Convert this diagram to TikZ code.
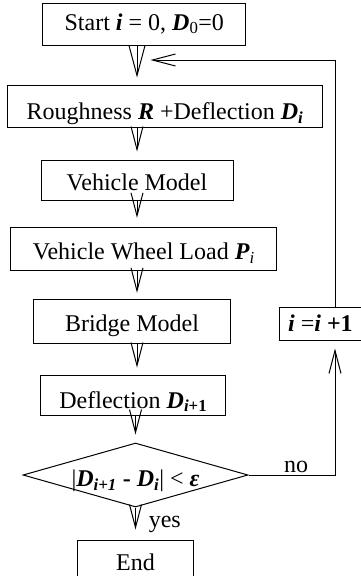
\documentclass[tikz,border=0pt]{standalone}
\usepackage{fontspec}
\setmainfont{Liberation Serif}
\usetikzlibrary{arrows.meta,shapes.geometric}
\newcommand{\bi}[1]{\textbf{\textit{#1}}}
\newcommand{\lw}{1pt}

\begin{document}
\begin{tikzpicture}[x=1pt, y=-1pt, line width=\lw, font=\fontsize{24}{28}\selectfont,
    box/.style={draw, inner sep=0pt, anchor=base},
    arr/.style={-{Straight Barb[length=23pt,width=12pt]}},
    bigarr/.style={-{Straight Barb[length=30pt,width=16pt]}}]
                %\draw[help lines] (0,0) grid (361,576);
                \clip (0,0) rectangle (361,576);
                \coordinate (col) at (137,0);
                \coordinate (rail) at (335,0);
                \coordinate (merge) at (150.5,60);
                \node[box, minimum width=202.7pt, text height=26.7pt, text depth=15pt] (start) at (144.3,30) {Start \bi{i} = 0, \bi{D}\textsubscript{0}=0};
                \node[box, minimum width=315.3pt, text height=34.3pt, text depth=8pt] (rough) at (165,119.3) {Roughness \bi{R} +Deflection \bi{D}\textsubscript{\bi{i}}};
                \node[box, minimum width=192pt, text height=30.7pt, text depth=9.3pt] (vehicle) at (137,190.7) {Vehicle Model};
                \node[box, minimum width=265.7pt, text height=32pt, text depth=10.7pt] (load) at (143.8,259.3) {Vehicle Wheel Load \bi{P}\textsubscript{\textit{i}}};
                \node[box, minimum width=197.3pt, text height=32.4pt, text depth=11.6pt] (bridge) at (132,331.7) {Bridge Model};
                \node[box, minimum width=184.7pt, text height=33pt, text depth=7pt] (defl) at (133.3,408) {Deflection \bi{D}\textsubscript{\bi{i}\textbf{+1}}};
                \node[box, minimum width=82.2pt, text height=24.4pt, text depth=8.3pt] (inc) at (320.4,331.7) {\bi{i} =\bi{i} \textbf{+1}};
                \node[draw, shape=diamond, aspect=3.5, inner sep=0pt, minimum width=225pt, minimum height=64pt, text height=24pt, text depth=0.6pt] (check) at (135.5,475) {|\bi{D}\textsubscript{\bi{i+1}} \textbf{-} \bi{D}\textsubscript{\bi{i}}| < \bi{ε}};
                \node[box, minimum width=115.6pt, text height=30pt, text depth=12pt] (stop) at (135.5,570) {End};
                % main flow
                \draw[bigarr, shorten >=7pt] (start.south -| col) -- (rough.north -| col);
                \draw[arr, shorten >=8pt] (rough.south -| col) -- (vehicle.north -| col);
                \draw[arr, shorten >=9pt] (vehicle.south -| col) -- (load.north -| col);
                \draw[arr, shorten >=6pt] (load.south -| col) -- (bridge.north -| col);
                \draw[arr, shorten >=7pt] (bridge.south -| col) -- (defl.north -| col);
                \draw[arr, shorten >=8pt] (defl.south -| check) -- (check.north);
                \draw[arr, shorten >=10pt] (check.south) -- node[pos=0.64, anchor=base west, xshift=9.5pt] (yes) {yes} (stop.north);
                % loop back
                \draw[arr, shorten >=8pt] (check.east) -- node[pos=0.55, anchor=base, yshift=3pt] (no) {no} (check.east -| rail) -- (inc.south -| rail);
                \draw[arr] (inc.north -| rail) |- (merge);
        \end{tikzpicture}
\end{document}
